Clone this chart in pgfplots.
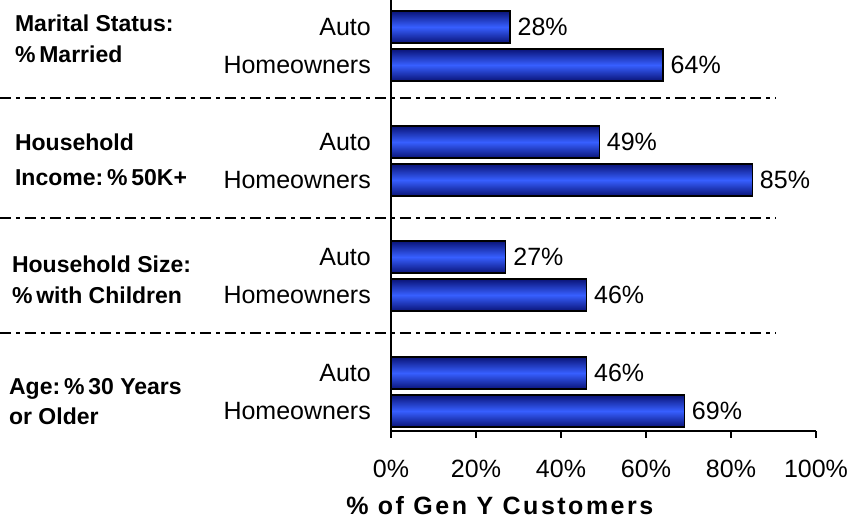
\documentclass[border=0pt]{standalone}
\usepackage{fontspec}
\setmainfont{Liberation Sans}
\newfontfamily\titlefont[LetterSpace=10]{Liberation Sans}
\usepackage{pgfplots}
\pgfplotsset{compat=1.18}
\definecolor{barmid}{RGB}{55,95,255}
\definecolor{baredge}{RGB}{10,20,120}
\pgfplotsset{mybar/.style={xbar, bar width=32, draw=black, line width=1.4pt,
  top color=baredge, bottom color=baredge, middle color=barmid,
  point meta=x,
  nodes near coords={\pgfmathprintnumber{\pgfplotspointmeta}\%},
  every node near coord/.append style={font=\fontsize{25}{30}\selectfont, anchor=west, inner sep=0pt, xshift=7pt, text=black}}}
\begin{document}
\begin{tikzpicture}
\newcommand{\reg}{\fontsize{25}{30}\selectfont}
\newcommand{\bld}{\fontsize{23}{27}\selectfont\bfseries}
\begin{axis}[
  name=ax,
  scale only axis,
  width=425pt, height=431pt,
  xmin=0, xmax=100, ymin=0, ymax=431,
  axis x line*=bottom, axis y line*=left,
  axis line style={-, line width=1.3pt, black},
  clip=false,
  /pgf/number format/assume math mode=true,
  xtick={0,20,40,60,80,100},
  xticklabel={\pgfmathprintnumber{\tick}\%},
  xticklabel style={font=\reg, anchor=base, yshift=-40pt},
  tick align=outside,
  major tick length=7pt,
  xtick style={line width=1.3pt, black},
  ytick={404,366,289,251,174,136,58,20},
  yticklabels={Auto,Homeowners,Auto,Homeowners,Auto,Homeowners,Auto,Homeowners},
  yticklabel style={font=\reg, anchor=east, inner sep=0pt, xshift=-13pt},
  ytick style={draw=none},
  xlabel={\% of Gen Y Customers},
  xlabel style={font=\fontsize{25}{30}\titlefont\bfseries, at={(axis description cs:0.256,0)}, anchor=base, yshift=-84pt},
]
\addplot[mybar] coordinates {(28,404)};
\addplot[mybar] coordinates {(64,366)};
\addplot[mybar] coordinates {(49,289)};
\addplot[mybar] coordinates {(85,251)};
\addplot[mybar] coordinates {(27,174)};
\addplot[mybar] coordinates {(46,136)};
\addplot[mybar] coordinates {(46,58)};
\addplot[mybar] coordinates {(69,20)};
% separators
\draw[black, line width=2pt, dash pattern=on 11pt off 5pt on 4pt off 5pt] (axis cs:-92,333) -- (axis cs:90.4,333);
\draw[black, line width=2pt, dash pattern=on 11pt off 5pt on 4pt off 5pt] (axis cs:-92,213) -- (axis cs:90.4,213);
\draw[black, line width=2pt, dash pattern=on 11pt off 5pt on 4pt off 5pt] (axis cs:-92,98) -- (axis cs:90.4,98);
% group labels
\node[anchor=base west, inner sep=0pt, font=\bld] at (axis cs:-88.5,399) {Marital Status:};
\node[anchor=base west, inner sep=0pt, font=\bld] at (axis cs:-88.5,368) {\%\,Married};
\node[anchor=base west, inner sep=0pt, font=\bld] at (axis cs:-88.5,280) {Household};
\node[anchor=base west, inner sep=0pt, font=\bld] at (axis cs:-88.5,245) {Income:\,\%\,50K+};
\node[anchor=base west, inner sep=0pt, font=\bld] at (axis cs:-89.2,158) {Household Size:};
\node[anchor=base west, inner sep=0pt, font=\bld] at (axis cs:-89.2,127) {\%\,with Children};
\node[anchor=base west, inner sep=0pt, font=\bld] at (axis cs:-89.9,36) {Age:\,\%\,30 Years};
\node[anchor=base west, inner sep=0pt, font=\bld] at (axis cs:-89.9,6) {or Older};
\end{axis}
\pgfresetboundingbox
\path[use as bounding box] ([shift={(-391pt,-98pt)}]ax.south west) rectangle ([shift={(473pt,431pt)}]ax.south west);
\end{tikzpicture}
\end{document}
